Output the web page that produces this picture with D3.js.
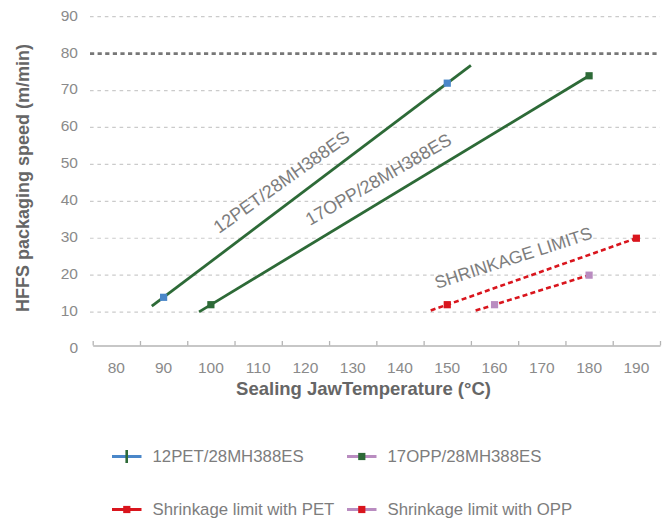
<!DOCTYPE html>
<html>
<head>
<meta charset="utf-8">
<script src="https://cdn.jsdelivr.net/npm/d3@7"></script>
<style>
  body { margin: 0; background: #fff; }
  svg { display: block; font-family: "Liberation Sans", Arial, sans-serif; }
</style>
</head>
<body>
<svg id="chart" width="665" height="521"></svg>
<script>
// categories on the x axis (sealing jaw temperature, °C)
const temperatures = [80, 90, 100, 110, 120, 130, 140, 150, 160, 170, 180, 190];
const speedTicks = [0, 10, 20, 30, 40, 50, 60, 70, 80, 90];
const speedLimit = 80;

// measured points
const petTemps = [90, 150];
const petSpeeds = [14, 72];
const oppTemps = [100, 180];
const oppSpeeds = [12, 74];
const petLimitTemps = [150, 190];
const petLimitSpeeds = [12, 30];
const oppLimitTemps = [160, 180];
const oppLimitSpeeds = [12, 20];

// trendline extents (with forecast)
const petTrendRange = [87.5, 155];
const oppTrendRange = [97.5, 180];
const petLimitTrendRange = [146.5, 190];
const oppLimitTrendRange = [156, 180];

const svg = d3.select('#chart');

const x = d3.scaleLinear().domain([75, 195]).range([92.7, 660]);
const y = d3.scaleLinear().domain([0, 90]).range([349, 16.7]);

const grey = '#8a8a8a';
const green = '#2d6a37';
const blue = '#4a87c9';
const red = '#d9151d';
const purple = '#b98cc0';

// gridlines
svg.append('g')
  .selectAll('line')
  .data(speedTicks.filter((d) => d > 0))
  .enter()
  .append('line')
  .attr('x1', 90)
  .attr('x2', 660)
  .attr('y1', (d) => y(d))
  .attr('y2', (d) => y(d))
  .attr('stroke', (d) => (d === speedLimit ? '#777' : '#cbcbcb'))
  .attr('stroke-width', (d) => (d === speedLimit ? 2.6 : 1.2))
  .attr('stroke-dasharray', (d) => (d === speedLimit ? '4.2,3.4' : '3.6,3.8'));

// y tick labels
svg.append('g')
  .selectAll('text')
  .data(speedTicks)
  .enter()
  .append('text')
  .attr('x', 78)
  .attr('y', (d) => y(d) - 1.5)
  .attr('dy', '0.35em')
  .attr('text-anchor', 'end')
  .attr('fill', grey)
  .style('font-size', '15.5px')
  .text((d) => d);

// x axis: boundary ticks pointing up + labels in the middle of each band
const axisY = y(0) - 3.5;
const bounds = d3.range(75, 196, 10);
const xAxis = svg.append('g').attr('transform', `translate(0,${axisY})`);
xAxis.call(d3.axisBottom(x).tickValues(bounds).tickSizeInner(-4.5).tickSizeOuter(0).tickFormat(''));
xAxis.select('.domain').attr('stroke', '#b5b5b5').attr('stroke-width', 1.3);
xAxis.selectAll('.tick line').attr('stroke', '#b5b5b5').attr('stroke-width', 1.3);

svg.append('g')
  .selectAll('text')
  .data(temperatures)
  .enter()
  .append('text')
  .attr('x', (d) => x(d))
  .attr('y', 373)
  .attr('text-anchor', 'middle')
  .attr('fill', grey)
  .style('font-size', '15.5px')
  .text((d) => d);

// axis titles
svg.append('text')
  .attr('x', 363.5)
  .attr('y', 395)
  .attr('text-anchor', 'middle')
  .attr('fill', '#666')
  .style('font-size', '18.5px')
  .style('font-weight', 'bold')
  .text('Sealing JawTemperature (°C)');

svg.append('text')
  .attr('transform', 'translate(29,178) rotate(-90)')
  .attr('text-anchor', 'middle')
  .attr('fill', '#666')
  .style('font-size', '18px')
  .style('font-weight', 'bold')
  .text('HFFS packaging speed (m/min)');

// linear trendline through the points, drawn over the given extent
function trend(temps, speeds, range) {
  const fit = d3.scaleLinear().domain(temps).range(speeds);
  return range.map((t) => [x(t), y(fit(t))]);
}

const line = d3.line();

svg.append('path')
  .attr('d', line(trend(petTemps, petSpeeds, petTrendRange)))
  .attr('fill', 'none')
  .attr('stroke', green)
  .attr('stroke-width', 2.8);

svg.append('path')
  .attr('d', line(trend(oppTemps, oppSpeeds, oppTrendRange)))
  .attr('fill', 'none')
  .attr('stroke', green)
  .attr('stroke-width', 2.8);

svg.append('path')
  .attr('d', line(trend(petLimitTemps, petLimitSpeeds, petLimitTrendRange)))
  .attr('fill', 'none')
  .attr('stroke', red)
  .attr('stroke-width', 2.6)
  .attr('stroke-dasharray', '5,3.2');

svg.append('path')
  .attr('d', line(trend(oppLimitTemps, oppLimitSpeeds, oppLimitTrendRange)))
  .attr('fill', 'none')
  .attr('stroke', red)
  .attr('stroke-width', 2.6)
  .attr('stroke-dasharray', '5,3.2');

// markers
function markers(temps, speeds, color) {
  svg.append('g')
    .selectAll('rect')
    .data(temps.map((t, i) => [t, speeds[i]]))
    .enter()
    .append('rect')
    .attr('x', (d) => x(d[0]) - 3.6)
    .attr('y', (d) => y(d[1]) - 3.6)
    .attr('width', 7.2)
    .attr('height', 7.2)
    .attr('fill', color);
}
markers(petTemps, petSpeeds, blue);
markers(oppTemps, oppSpeeds, green);
markers(petLimitTemps, petLimitSpeeds, red);
markers(oppLimitTemps, oppLimitSpeeds, purple);

// labels along the lines
const labels = [
  { text: '12PET/28MH388ES', x: 219, y: 234, angle: -35.5, size: 18 },
  { text: '17OPP/28MH388ES', x: 310, y: 226, angle: -30, size: 18 },
  { text: 'SHRINKAGE LIMITS', x: 437, y: 289, angle: -18, size: 17.5 },
];
svg.append('g')
  .selectAll('text')
  .data(labels)
  .enter()
  .append('text')
  .attr('transform', (d) => `translate(${d.x},${d.y}) rotate(${d.angle})`)
  .attr('fill', '#7d7d7d')
  .style('font-size', (d) => `${d.size}px`)
  .text((d) => d.text);

// legend
const legendItems = [
  { name: '12PET/28MH388ES', line: blue, mark: green, shape: 'bar', x: 112, y: 456.5 },
  { name: '17OPP/28MH388ES', line: purple, mark: green, shape: 'square', x: 347, y: 456.5 },
  { name: 'Shrinkage limit with PET', line: red, mark: red, shape: 'square', x: 112, y: 509.5 },
  { name: 'Shrinkage limit with OPP', line: purple, mark: red, shape: 'square', x: 347, y: 509.5 },
];
const legend = svg.append('g')
  .selectAll('g')
  .data(legendItems)
  .enter()
  .append('g')
  .attr('transform', (d) => `translate(${d.x},${d.y})`);

legend.append('line')
  .attr('x1', 0)
  .attr('x2', 29.5)
  .attr('stroke', (d) => d.line)
  .attr('stroke-width', 3);

legend.filter((d) => d.shape === 'bar')
  .append('line')
  .attr('x1', 14.7)
  .attr('x2', 14.7)
  .attr('y1', -6.5)
  .attr('y2', 6.5)
  .attr('stroke', (d) => d.mark)
  .attr('stroke-width', 2.6);

legend.filter((d) => d.shape === 'square')
  .append('rect')
  .attr('x', 11.2)
  .attr('y', -3.6)
  .attr('width', 7.2)
  .attr('height', 7.2)
  .attr('fill', (d) => d.mark);

legend.append('text')
  .attr('x', 40.5)
  .attr('dy', '0.35em')
  .attr('fill', '#7d7d7d')
  .style('font-size', '16.8px')
  .text((d) => d.name);
</script>
</body>
</html>
